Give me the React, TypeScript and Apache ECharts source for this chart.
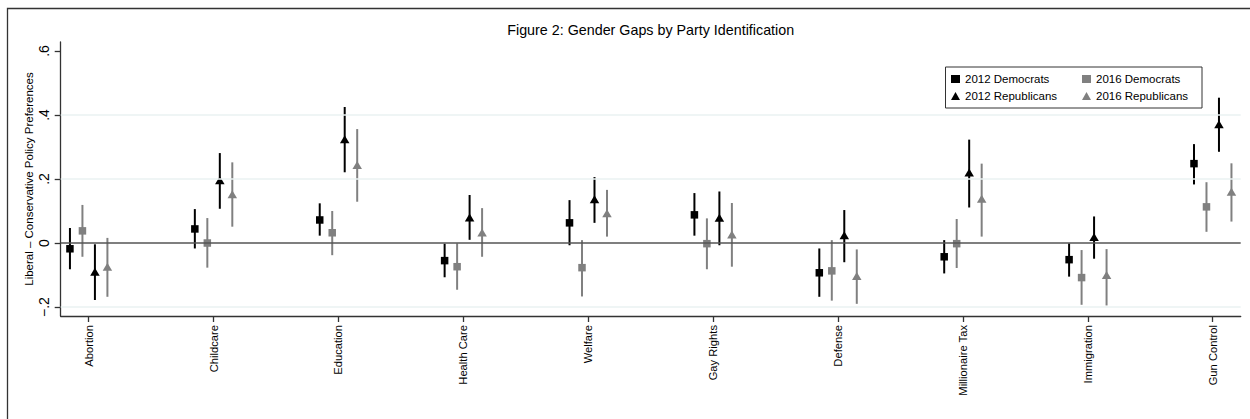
import React, { useEffect, useRef } from "react";
import * as echarts from "echarts";

const categories = ["Abortion", "Childcare", "Education", "Health Care", "Welfare", "Gay Rights", "Defense", "Millionaire Tax", "Immigration", "Gun Control"];
const yTicks = [-0.2, 0, 0.2, 0.4, 0.6];

const dem2012 = [-0.018, 0.044, 0.072, -0.055, 0.063, 0.088, -0.093, -0.043, -0.052, 0.248];
const dem2012Lo = [-0.082, -0.017, 0.023, -0.107, -0.007, 0.023, -0.168, -0.095, -0.105, 0.183];
const dem2012Hi = [0.047, 0.106, 0.124, -0.002, 0.134, 0.156, -0.017, 0.009, -0.001, 0.309];

const dem2016 = [0.038, 0.0, 0.032, -0.074, -0.077, -0.002, -0.087, -0.002, -0.108, 0.113];
const dem2016Lo = [-0.043, -0.077, -0.038, -0.146, -0.167, -0.082, -0.18, -0.078, -0.193, 0.035];
const dem2016Hi = [0.119, 0.078, 0.1, -0.001, 0.009, 0.077, 0.009, 0.075, -0.022, 0.19];

const rep2012 = [-0.09, 0.196, 0.324, 0.08, 0.137, 0.079, 0.024, 0.22, 0.019, 0.371];
const rep2012Lo = [-0.178, 0.107, 0.221, 0.01, 0.063, -0.007, -0.06, 0.111, -0.049, 0.285];
const rep2012Hi = [-0.004, 0.281, 0.425, 0.15, 0.206, 0.161, 0.103, 0.323, 0.083, 0.454];

const rep2016 = [-0.074, 0.152, 0.244, 0.033, 0.093, 0.027, -0.103, 0.138, -0.1, 0.16];
const rep2016Lo = [-0.168, 0.051, 0.129, -0.043, 0.02, -0.074, -0.19, 0.02, -0.195, 0.067];
const rep2016Hi = [0.016, 0.252, 0.356, 0.109, 0.166, 0.125, -0.02, 0.248, -0.019, 0.249];

const FONT = "'Liberation Sans', Arial, Helvetica, sans-serif";

type Group = { name: string; vals: number[]; lo: number[]; hi: number[]; offset: number; color: string; symbol: string; size: number | number[] };

const groups: Group[] = [
  { name: "2012 Democrats", vals: dem2012, lo: dem2012Lo, hi: dem2012Hi, offset: -0.15, color: "#000000", symbol: "rect", size: 7.5 },
  { name: "2016 Democrats", vals: dem2016, lo: dem2016Lo, hi: dem2016Hi, offset: -0.05, color: "#808080", symbol: "rect", size: 7.5 },
  { name: "2012 Republicans", vals: rep2012, lo: rep2012Lo, hi: rep2012Hi, offset: 0.05, color: "#000000", symbol: "triangle", size: [9.5, 8] },
  { name: "2016 Republicans", vals: rep2016, lo: rep2016Lo, hi: rep2016Hi, offset: 0.15, color: "#808080", symbol: "triangle", size: [9.5, 8] },
];

export default function App() {
  const ref = useRef<HTMLDivElement>(null);
  useEffect(() => {
    if (!ref.current) return;
    const chart = echarts.init(ref.current, null, { renderer: "svg" });
    const series: any[] = [];
    series.push({
      type: "line",
      name: "grid",
      data: [],
      z: 1,
      silent: true,
      markLine: {
        silent: true,
        symbol: "none",
        label: { show: false },
        animation: false,
        data: [
          { yAxis: -0.2, lineStyle: { color: "#eaf2f2", width: 1.5, type: "solid" } },
          { yAxis: 0.2, lineStyle: { color: "#eaf2f2", width: 1.5, type: "solid" } },
          { yAxis: 0.4, lineStyle: { color: "#eaf2f2", width: 1.5, type: "solid" } },
          { yAxis: 0, lineStyle: { color: "#555555", width: 1.5, type: "solid" } },
        ],
      },
    });
    groups.forEach((g) => {
      series.push({
        type: "custom",
        name: g.name,
        z: 3,
        itemStyle: { color: g.color },
        data: categories.map((_, i) => [i + 1 + g.offset, g.lo[i], g.hi[i]]),
        encode: { x: 0, y: [1, 2] },
        renderItem: (params: any, api: any) => {
          const x = api.value(0);
          const p1 = api.coord([x, api.value(1)]);
          const p2 = api.coord([x, api.value(2)]);
          return {
            type: "line",
            shape: { x1: p1[0], y1: p1[1], x2: p2[0], y2: p2[1] },
            style: { stroke: g.color, lineWidth: 2 },
          };
        },
      });
    });
    groups.forEach((g) => {
      series.push({
        type: "scatter",
        name: g.name,
        z: 4,
        symbol: g.symbol,
        symbolSize: g.size,
        itemStyle: { color: g.color, opacity: 1 },
        data: categories.map((_, i) => [i + 1 + g.offset, g.vals[i]]),
      });
    });

    const legendCommon = {
      orient: "vertical",
      itemWidth: 9,
      itemHeight: 8,
      itemGap: 3,
      selectedMode: false,
      textStyle: { fontFamily: FONT, fontSize: 11.5, color: "#000", lineHeight: 14 },
      padding: 0,
    };
    const legendItem = (g: Group) => ({
      name: g.name,
      icon: g.symbol === "rect" ? "rect" : "triangle",
      itemStyle: { color: g.color },
    });

    chart.setOption({
      animation: false,
      textStyle: { fontFamily: FONT },
      grid: { left: 60.7, right: 9.3, top: 42, bottom: 103, containLabel: false },
      xAxis: {
        type: "value",
        min: 0.776,
        max: 10.224,
        axisLine: { show: true, onZero: false, lineStyle: { color: "#333", width: 1.3 } },
        axisTick: { show: true, customValues: categories.map((_, i) => i + 1), length: 6, lineStyle: { color: "#333", width: 1.3 } },
        axisLabel: {
          customValues: categories.map((_, i) => i + 1),
          formatter: (v: number) => categories[Math.round(v) - 1] ?? "",
          rotate: 90,
          margin: 9,
          fontSize: 11.2,
          color: "#000",
          fontFamily: FONT,
        },
        splitLine: { show: false },
      },
      yAxis: {
        type: "value",
        min: -0.228,
        max: 0.628,
        name: "Liberal \u2013 Conservative Policy Preferences",
        nameLocation: "middle",
        nameRotate: 90,
        nameGap: 26,
        nameMoveOverlap: false,
        nameTextStyle: { fontFamily: FONT, fontSize: 11.5, color: "#000" },
        axisLine: { show: true, onZero: false, lineStyle: { color: "#333", width: 1.3 } },
        axisTick: { show: true, customValues: yTicks, length: 6, lineStyle: { color: "#333", width: 1.3 } },
        axisLabel: {
          customValues: yTicks,
          formatter: (v: number) => {
            const r = Math.round(v * 10) / 10;
            if (r === 0) return "0";
            const s = Math.abs(r).toString().replace(/^0/, "");
            return r < 0 ? "\u2212" + s : s;
          },
          rotate: 90,
          margin: 10,
          fontSize: 14,
          color: "#000",
          fontFamily: FONT,
        },
        splitLine: { show: false },
      },
      legend: [
        {
          ...legendCommon,
          left: 951,
          top: 72,
          data: [legendItem(groups[0]), legendItem(groups[2])],
        },
        {
          ...legendCommon,
          left: 1082,
          top: 72,
          data: [legendItem(groups[1]), legendItem(groups[3])],
        },
      ],
      graphic: [
        {
          type: "rect",
          shape: { x: 7.5, y: 8.5, width: 1260, height: 430 },
          style: { fill: "none", stroke: "#333", lineWidth: 1.3 },
          silent: true,
          z: 0,
        },
        {
          type: "rect",
          shape: { x: 945.5, y: 67, width: 256.5, height: 41 },
          style: { fill: "none", stroke: "#333", lineWidth: 1 },
          silent: true,
          z: 0,
        },
        {
          type: "text",
          x: 650.7,
          y: 30,
          style: {
            text: "Figure 2: Gender Gaps by Party Identification",
            textAlign: "center",
            textVerticalAlign: "middle",
            fontFamily: FONT,
            fontSize: 14.3,
            fill: "#000",
          },
        },
      ],
      series,
    });
    return () => chart.dispose();
  }, []);
  return <div ref={ref} style={{ position: "fixed", left: 0, top: 0, width: 1250, height: 419, background: "#fff" }} />;
}
